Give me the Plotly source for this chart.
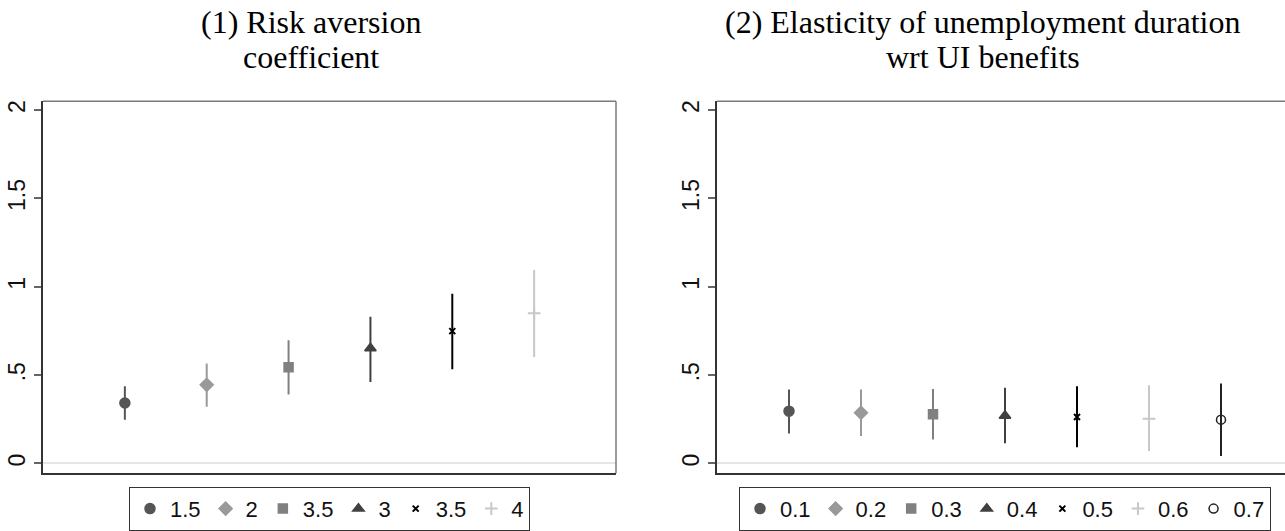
import plotly.graph_objects as go

W, H = 1285, 531

# ---------------- data ----------------
title_left = ["(1) Risk aversion", "coefficient"]
title_right = ["(2) Elasticity of unemployment duration", "wrt UI benefits"]

left_labels = ["1.5", "2", "3.5", "3", "3.5", "4"]
left_est = [0.342, 0.445, 0.545, 0.652, 0.749, 0.850]
left_lo = [0.248, 0.321, 0.391, 0.461, 0.533, 0.602]
left_hi = [0.437, 0.566, 0.698, 0.830, 0.960, 1.095]

right_labels = ["0.1", "0.2", "0.3", "0.4", "0.5", "0.6", "0.7"]
right_est = [0.296, 0.287, 0.279, 0.270, 0.263, 0.253, 0.248]
right_lo = [0.169, 0.156, 0.136, 0.114, 0.092, 0.070, 0.042]
right_hi = [0.419, 0.419, 0.422, 0.428, 0.437, 0.442, 0.452]

ytick_vals = [0, 0.5, 1, 1.5, 2]
ytick_text = ["0", ".5", "1", "1.5", "2"]

# ---------------- styles ----------------
symbols = ["circle", "diamond", "square", "triangle-up", "x-thin", "cross-thin", "circle-open"]
colors = ["#555555", "#999999", "#808080", "#404040", "#000000", "#c8c8c8", "#222222"]
sizes = [10, 10, 9, 10, 6, 9, 9]

fig = go.Figure()


def add_panel(labels, est, lo, hi, xa, ya, legend):
    for i, lab in enumerate(labels):
        thin = symbols[i] in ("x-thin", "cross-thin")
        fig.add_trace(go.Scatter(
            x=[i + 1], y=[est[i]],
            mode="markers",
            name=lab,
            xaxis=xa, yaxis=ya,
            legend=legend,
            marker=dict(symbol=symbols[i], color=colors[i], size=sizes[i],
                        line=dict(color=colors[i], width=2 if thin else 1.5)),
            error_y=dict(type="data", symmetric=False,
                         array=[hi[i] - est[i]], arrayminus=[est[i] - lo[i]],
                         color=colors[i], thickness=2, width=0),
            hoverinfo="skip",
        ))


add_panel(left_labels, left_est, left_lo, left_hi, "x", "y", "legend")
add_panel(right_labels, right_est, right_lo, right_hi, "x2", "y2", "legend2")

L1, R1 = 43, 616
L2 = 717
spacing2 = 72.0
ytop, ybot = 104, 486
ydom = [1 - ybot / H, 1 - ytop / H]
yr = [-0.055, 2.05]

axis_common = dict(showgrid=False, zeroline=False, showticklabels=False, ticks="",
                   showline=True, linecolor="#333333", linewidth=1.5)

yaxis_common = dict(range=yr, domain=ydom, showgrid=False,
                    zeroline=True, zerolinecolor="#e6e6e6", zerolinewidth=2,
                    tickmode="array", tickvals=ytick_vals, ticktext=ytick_text,
                    ticks="outside", ticklen=7, tickwidth=1.5, tickcolor="#666666",
                    tickangle=-90, tickfont=dict(family="Liberation Sans", size=23, color="#111111"),
                    showline=True, linecolor="#333333", linewidth=1.5)

legend_common = dict(orientation="h", xanchor="center", y=1 - 500 / H, yanchor="top",
                     bordercolor="#333333", borderwidth=1, bgcolor="white",
                     font=dict(family="Liberation Sans", size=22, color="#111111"),
                     itemwidth=30, tracegroupgap=0)

fig.update_layout(
    width=W, height=H,
    margin=dict(l=0, r=0, t=0, b=0),
    paper_bgcolor="white", plot_bgcolor="white",
    showlegend=True,
    xaxis=dict(domain=[L1 / W, R1 / W], range=[0, 7], anchor="y", **axis_common),
    yaxis=dict(anchor="x", **yaxis_common),
    xaxis2=dict(domain=[L2 / W, 1], range=[0, (W - L2) / spacing2], anchor="y2", **axis_common),
    yaxis2=dict(anchor="x2", **yaxis_common),
    legend=dict(x=(L1 + R1) / 2 / W, **legend_common),
    legend2=dict(x=(L2 + L2 + 8 * spacing2) / 2 / W, **legend_common),
)

# lighter top / right frame edges of the plot regions
frame_col = "#7a7a7a"
fig.add_shape(type="line", xref="x domain", yref="y domain", x0=0, x1=1, y0=1, y1=1,
              line=dict(color=frame_col, width=1.5))
fig.add_shape(type="line", xref="x domain", yref="y domain", x0=1, x1=1, y0=0, y1=1,
              line=dict(color=frame_col, width=1.5))
fig.add_shape(type="line", xref="x2 domain", yref="y2 domain", x0=0, x1=1, y0=1, y1=1,
              line=dict(color=frame_col, width=1.5))

tfont = dict(family="Liberation Serif", size=32, color="#000000")
for cx, lines in ((311, title_left), (983, title_right)):
    for k, txt in enumerate(lines):
        fig.add_annotation(text=txt, x=cx / W, y=1 - (23 + 36 * k) / H,
                           xref="paper", yref="paper", xanchor="center", yanchor="middle",
                           showarrow=False, font=tfont)

fig.write_html("out.html")
